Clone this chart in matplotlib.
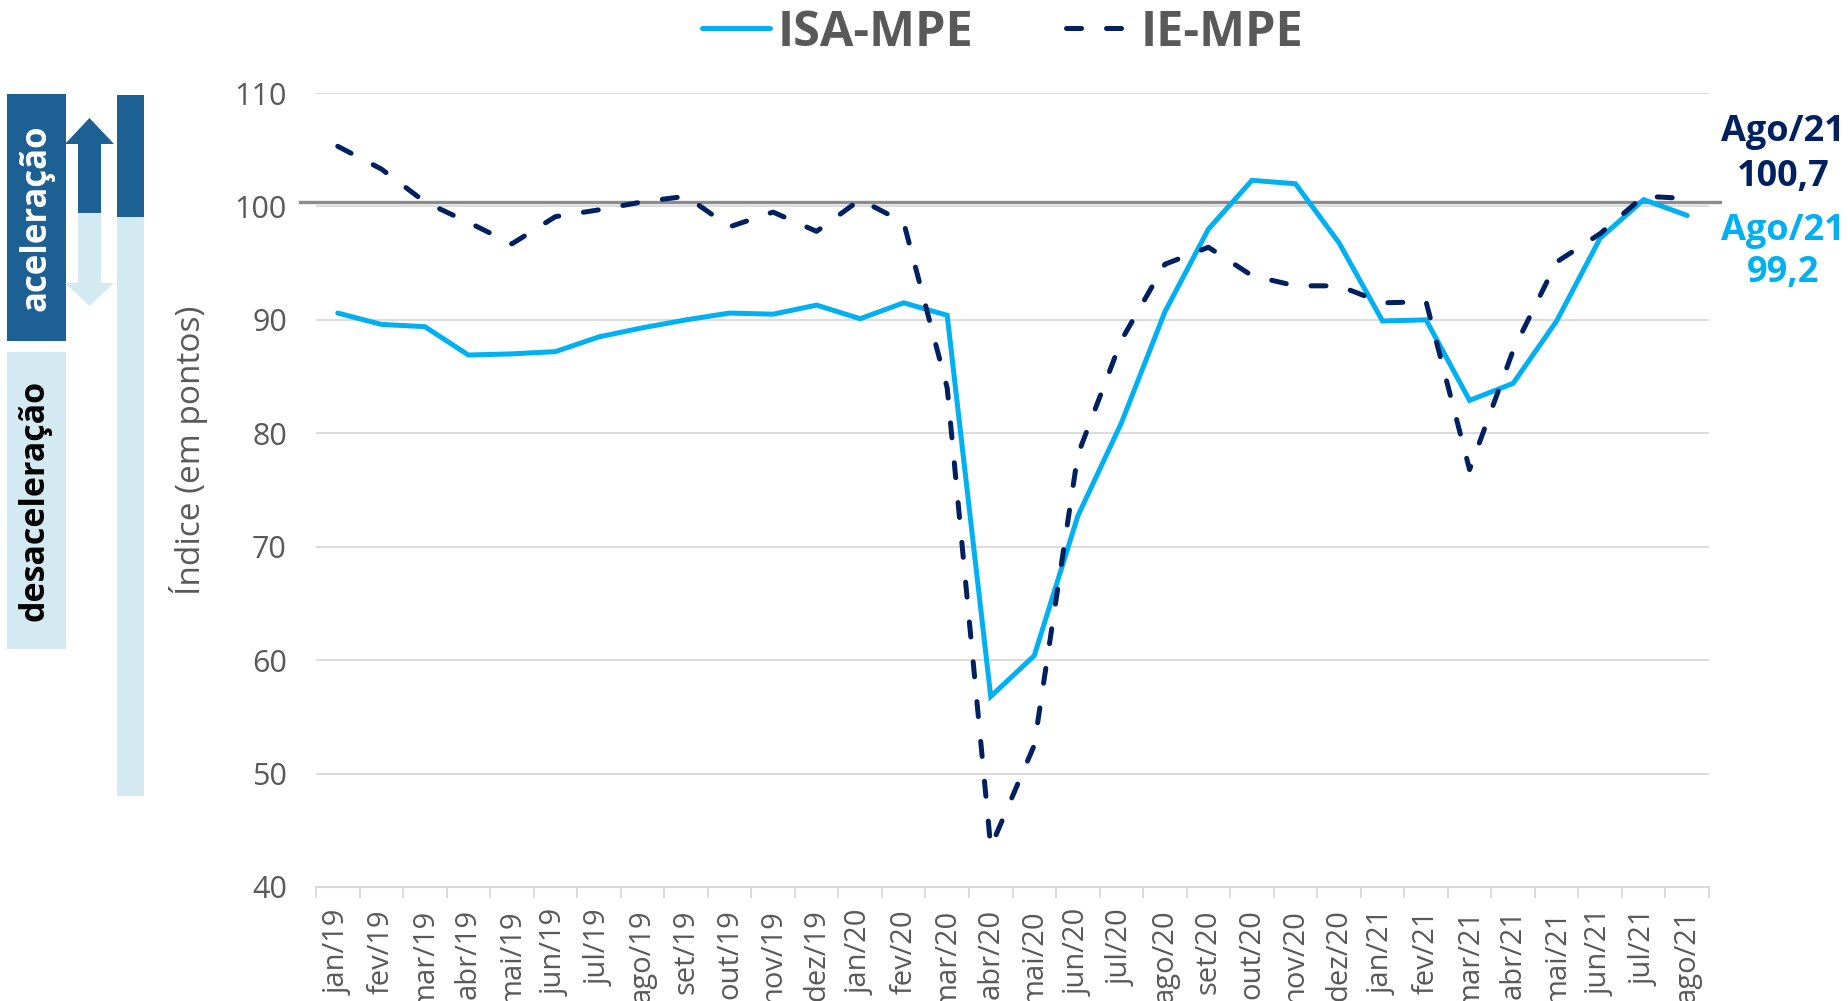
import matplotlib
matplotlib.use('Agg')
import matplotlib.pyplot as plt
from matplotlib.patches import Rectangle, Polygon

months = ['jan/19', 'fev/19', 'mar/19', 'abr/19', 'mai/19', 'jun/19', 'jul/19', 'ago/19',
          'set/19', 'out/19', 'nov/19', 'dez/19', 'jan/20', 'fev/20', 'mar/20', 'abr/20',
          'mai/20', 'jun/20', 'jul/20', 'ago/20', 'set/20', 'out/20', 'nov/20', 'dez/20',
          'jan/21', 'fev/21', 'mar/21', 'abr/21', 'mai/21', 'jun/21', 'jul/21', 'ago/21']
isa = [90.6, 89.6, 89.4, 86.9, 87.0, 87.2, 88.5, 89.3, 90.0, 90.6, 90.5, 91.3,
       90.1, 91.5, 90.4, 56.8, 60.4, 72.7, 80.9, 90.7, 98.0, 102.3, 102.0, 96.8,
       89.9, 90.0, 82.9, 84.4, 89.9, 97.2, 100.6, 99.2]
ie = [105.3, 103.3, 100.4, 98.6, 96.7, 99.1, 99.7, 100.4, 100.9, 98.2, 99.5, 97.8,
      100.6, 98.6, 84.0, 43.5, 52.5, 78.1, 88.2, 94.9, 96.4, 93.9, 93.0, 93.0,
      91.5, 91.6, 76.8, 87.3, 95.1, 97.6, 100.9, 100.7]
ref_level = 100.4
yticks = [40, 50, 60, 70, 80, 90, 100, 110]

cyan = '#00B0F0'
navy = '#002060'
dark = '#1D6094'
light = '#D3EAF3'
gray_txt = '#595959'
grid_c = '#D9D9D9'
font = 'Open Sans'

W, H = 1848, 1001
fig = plt.figure(figsize=(W / 100, H / 100), dpi=100)

# pixel-space layer for the side decorations and labels
deco = fig.add_axes([0, 0, 1, 1])
deco.set_xlim(0, W)
deco.set_ylim(H, 0)
deco.axis('off')

deco.add_patch(Rectangle((7, 94), 59, 247, color=dark, lw=0))
deco.add_patch(Rectangle((7, 352), 59, 297, color=light, lw=0))
deco.add_patch(Rectangle((117, 95), 27, 122, color=dark, lw=0))
deco.add_patch(Rectangle((117, 217), 27, 579, color=light, lw=0))
# up / down arrows
deco.add_patch(Polygon([(89.5, 118), (114, 144), (101, 144), (101, 213), (78, 213),
                        (78, 144), (65, 144)], closed=True, color=dark, lw=0))
deco.add_patch(Polygon([(78, 213), (101, 213), (101, 283), (114, 283), (89.5, 306),
                        (65, 283), (78, 283)], closed=True, color=light, lw=0))
deco.text(37, 218, 'aceleração', rotation=90, ha='center', va='center', color='white',
          fontsize=25, fontweight='bold', family=font)
deco.text(35, 500, 'desaceleração', rotation=90, ha='center', va='center', color='black',
          fontsize=24.5, fontweight='bold', family=font)
deco.text(189, 450, 'Índice (em pontos)', rotation=90, ha='center', va='center',
          color=gray_txt, fontsize=24, family=font)

# end-of-series labels
deco.text(1783, 132, 'Ago/21', ha='center', va='center', color=navy, fontsize=26,
          fontweight='bold', family=font)
deco.text(1783, 177, f'{ie[-1]:.1f}'.replace('.', ','), ha='center', va='center', color=navy,
          fontsize=26, fontweight='bold', family=font)
deco.text(1783, 231, 'Ago/21', ha='center', va='center', color=cyan, fontsize=26,
          fontweight='bold', family=font)
deco.text(1783, 273, f'{isa[-1]:.1f}'.replace('.', ','), ha='center', va='center', color=cyan,
          fontsize=26, fontweight='bold', family=font)

ax = fig.add_axes([316 / W, 1 - 887 / H, (1709 - 316) / W, (887 - 93) / H])
ax.set_facecolor('none')
x = list(range(len(months)))

ax.axhline(ref_level, xmin=-0.0115, xmax=1.008, color='#8C8C8C', lw=2.4, clip_on=False, zorder=2)
l1, = ax.plot(x, isa, color=cyan, lw=3.6, solid_capstyle='round', solid_joinstyle='miter', zorder=3)
l2, = ax.plot(x, ie, color=navy, lw=3.6, dashes=(3.0, 5.0), dash_capstyle='round', zorder=4)

ax.set_xlim(-0.5, len(months) - 0.5)
ax.set_ylim(40, 110)
ax.set_yticks(yticks)
ax.set_yticklabels([str(v) for v in yticks], family=font, fontsize=22, color=gray_txt)
ax.grid(axis='y', color=grid_c, lw=1.3)
ax.set_axisbelow(True)
ax.tick_params(axis='y', length=0, pad=21)

ax.set_xticks(x)
ax.set_xticklabels(months, rotation=90, family=font, fontsize=21, color=gray_txt,
                   ha='center', va='top')
ax.set_xticks([i - 0.5 for i in range(len(months) + 1)], minor=True)
ax.tick_params(axis='x', which='major', length=0, pad=16)
ax.tick_params(axis='x', which='minor', length=8, width=1.3, color=grid_c)

for s in ['top', 'right', 'left']:
    ax.spines[s].set_visible(False)
ax.spines['bottom'].set_color(grid_c)
ax.spines['bottom'].set_linewidth(1.5)

fig.legend([l1, l2], ['ISA-MPE', 'IE-MPE'], loc='center', bbox_to_anchor=(1003 / W, 1 - 33 / H),
           ncol=2, frameon=False, handlelength=1.4, handletextpad=0.15, columnspacing=1.9,
           borderpad=0, prop={'family': font, 'weight': 'bold', 'size': 35},
           labelcolor=gray_txt)

fig.savefig('out.png', dpi=100)
